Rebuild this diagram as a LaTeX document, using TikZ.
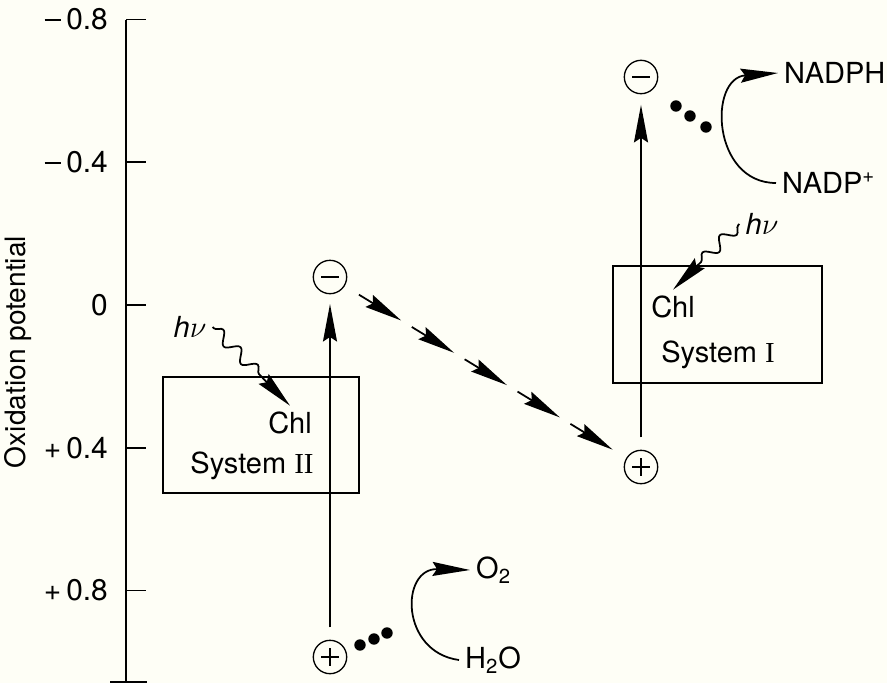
\documentclass[tikz,border=0pt]{standalone}
\usepackage{fontspec}
\setmainfont{TeX Gyre Heros}
\newfontfamily\romnum{Liberation Serif}
\usepackage{tikz}
\usetikzlibrary{positioning,calc,arrows.meta,decorations.pathmorphing}

\definecolor{paper}{RGB}{254,254,246}
\newcommand\mn{\rule[0.28em]{0.56em}{0.07em}}

\begin{document}
\begin{tikzpicture}[x=0.02cm,y=-0.02cm,
    every node/.style={font=\fontsize{16.5}{19}\selectfont},
    axisline/.style={line width=1pt},
    sysbox/.style={line width=1.2pt},
    charge/.style={circle,draw,line width=0.75pt,minimum size=19pt,inner sep=0pt},
    minus/.style={charge,path picture={
        \draw[line width=0.9pt] ([xshift=-5pt]path picture bounding box.center) -- ([xshift=5pt]path picture bounding box.center);}},
    plus/.style={charge,path picture={
        \draw[line width=0.9pt] ([xshift=-5pt]path picture bounding box.center) -- ([xshift=5pt]path picture bounding box.center);
        \draw[line width=0.9pt] ([yshift=-5pt]path picture bounding box.center) -- ([yshift=5pt]path picture bounding box.center);}},
    tip/.style={-{Stealth[length=7.5mm,width=2.8mm,inset=0.9mm]},line width=1pt},
    photon/.style={tip,decorate,decoration={snake,amplitude=3.3pt,segment length=14pt,pre length=1pt,post length=7.5mm}},
    dot/.style={circle,fill,inner sep=0pt,minimum size=6.5pt}]
  \fill[paper] (0,0) rectangle (887,683);
  \useasboundingbox (0,0) rectangle (887,683);

  % potential axis
  \draw[axisline] (126,20) -- (126,683);
  \draw[axisline] (110,682) -- (147,682);
  \foreach \v/\t [count=\i] in {-0.8/{\mn\,0.8},-0.4/{\mn\,0.4},0/{0},0.4/{+\,0.4},0.8/{+\,0.8}} {
    \draw[axisline] (126,{305+357*\v}) -- (146,{305+357*\v});
    \node[anchor=east,font=\fontsize{17}{19}\selectfont] (tick\i) at (114,{305+357*\v}) {\t};
  }
  \node[rotate=90,font=\fontsize{16}{19}\selectfont] (ylab) at (18,352) {Oxidation potential};

  % system II
  \draw[sysbox] (163,377) rectangle (359,493);
  \node (chl2) at (290,423) {Chl};
  \node (sys2) at (252,466) {System {\romnum II}};
  \node (hv2) at (190,327) {{\itshape h}$\nu$};
  \draw[photon] (hv2.east) -- (chl2.north);
  \node[minus] (m2) at (330,277) {};
  \node[plus] (p2) at (330,657) {};
  \draw[tip,shorten <=7pt,shorten >=5.5pt] (p2) -- (m2);
  \foreach \x/\y in {360/645,374/639,387/633}
    \node[dot] at (\x,\y) {};
  \node[anchor=west] (o2) at (470,570) {O\textsubscript{2}};
  \node[anchor=west] (h2o) at (459,660) {H\textsubscript{2}O};
  \draw[tip] (h2o.west) .. controls (400,652) and (400,568) .. (o2.west);

  % system I
  \draw[sysbox] (613,266) rectangle (822,383);
  \node (chl1) at (673,307) {Chl};
  \node (sys1) at (718,355) {System {\romnum I}};
  \node (hv1) at (762,224) {{\itshape h}$\nu$};
  \draw[photon] (hv1.west) -- (chl1.north);
  \node[minus] (m1) at (641,77) {};
  \node[plus] (p1) at (641,467) {};
  \draw[tip,shorten <=7pt,shorten >=6pt] (p1) -- (m1);
  \foreach \x/\y in {676/106,690/116,706/127}
    \node[dot] at (\x,\y) {};
  \node[anchor=west] (nadph) at (778,73) {NADPH};
  \node[anchor=west] (nadp) at (776,183) {NADP\textsuperscript{+}};
  \draw[tip] (nadp.west) .. controls (712,183) and (708,78) .. (nadph.west);

  % electron carriers
  \foreach \k in {0,...,4}
    \draw[tip] ($(m2)!{0.093+0.17*\k}!(p1)$) -- ($(m2)!{0.229+0.17*\k}!(p1)$);
\end{tikzpicture}
\end{document}
